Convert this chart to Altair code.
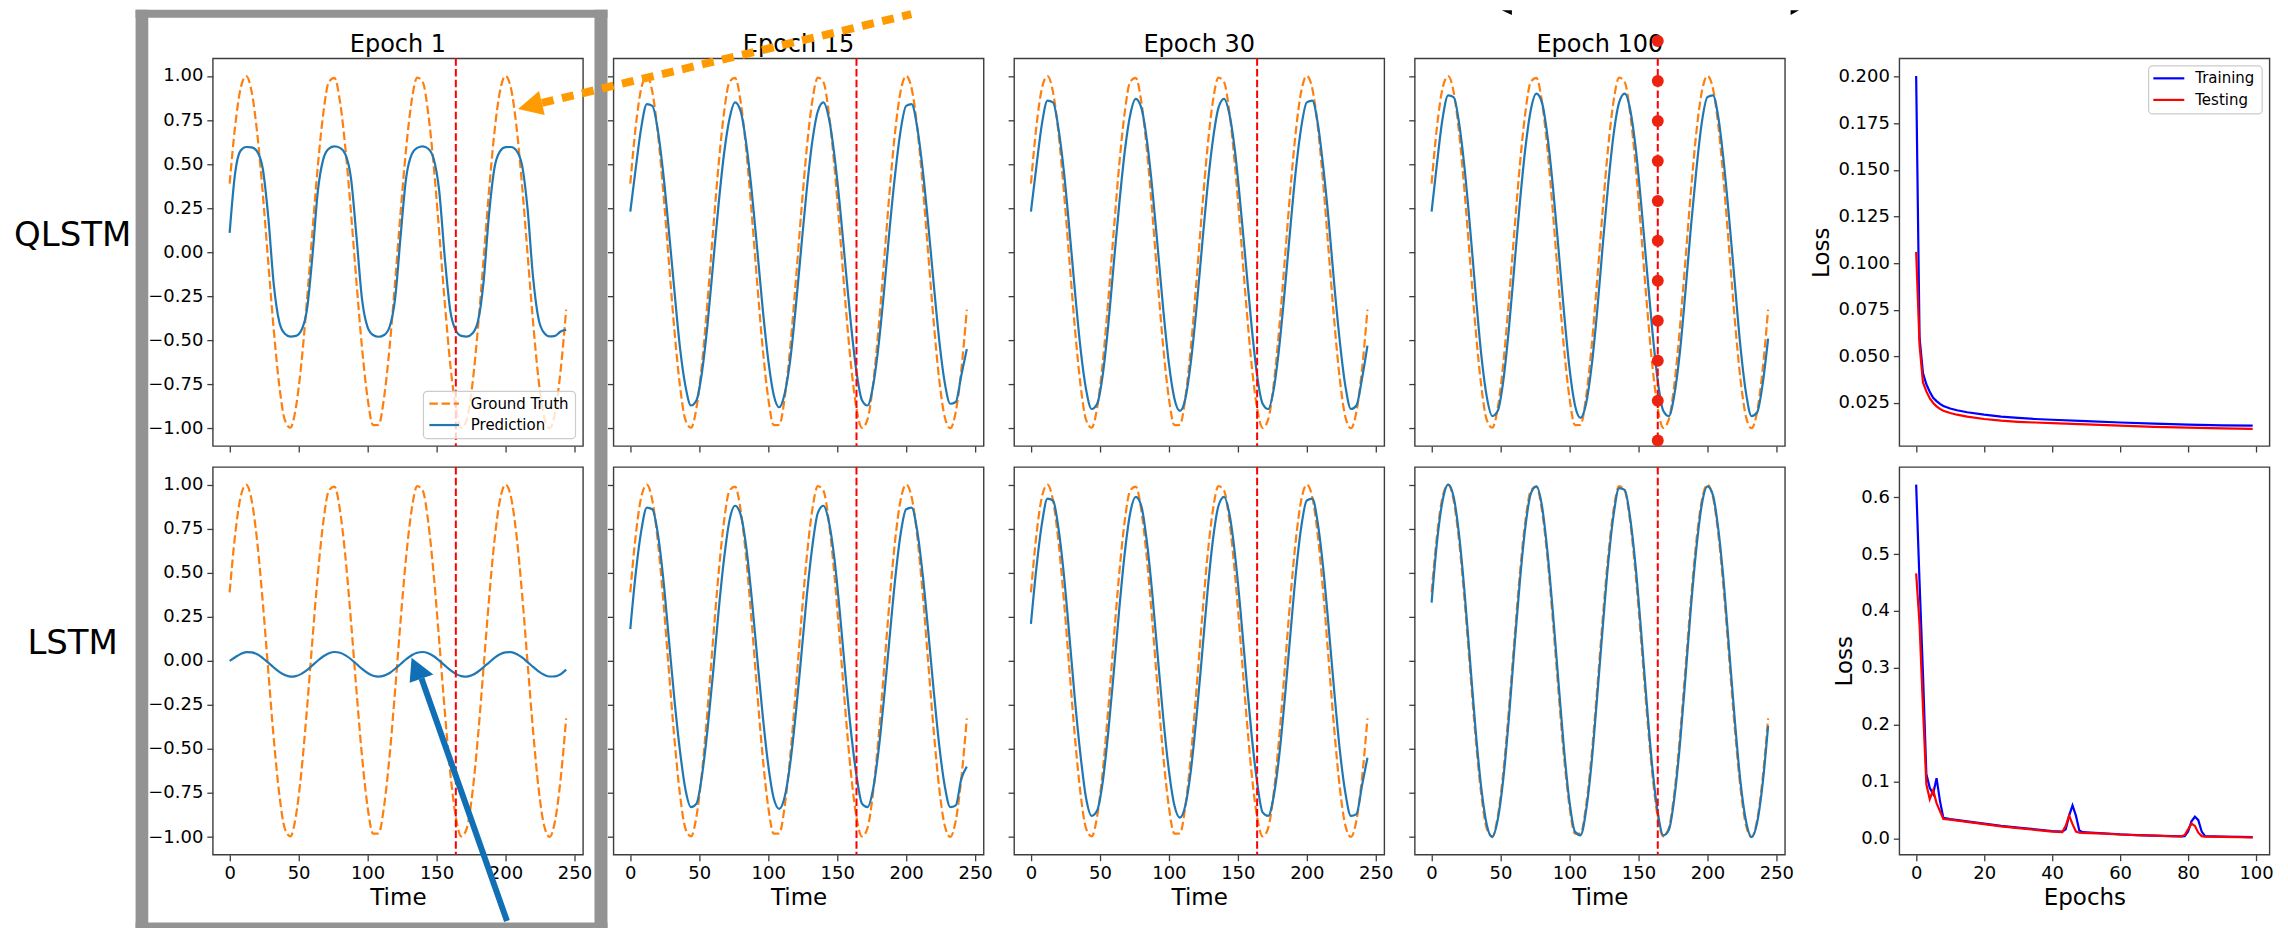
import altair as alt
import pandas as pd

FONT = "DejaVu Sans"

# ---------------- data ----------------
TIME = [0, 4, 8, 12, 16, 20, 24, 28, 32, 36, 40, 44, 48, 52, 56, 60, 64, 68, 72, 76,
        80, 84, 88, 92, 96, 100, 104, 108, 112, 116, 120, 124, 128, 132, 136, 140, 144,
        148, 152, 156, 160, 164, 168, 172, 176, 180, 184, 188, 192, 196, 200, 204, 208,
        212, 216, 220, 224, 228, 232, 236, 240, 244]

GROUND_TRUTH = [0.389, 0.717, 0.932, 1.000, 0.909, 0.675, 0.335, -0.058, -0.443, -0.757,
                -0.952, -0.996, -0.883, -0.631, -0.279, 0.117, 0.494, 0.794, 0.968, 0.989,
                0.855, 0.585, 0.223, -0.174, -0.544, -0.828, -0.981, -0.980, -0.823, -0.537,
                -0.165, 0.232, 0.592, 0.860, 0.991, 0.966, 0.787, 0.486, 0.108, -0.288,
                -0.638, -0.887, -0.997, -0.949, -0.751, -0.434, -0.050, 0.343, 0.682, 0.913,
                1.000, 0.929, 0.711, 0.382, -0.009, -0.397, -0.724, -0.935, -0.999, -0.906,
                -0.669, -0.326]

QLSTM_EPOCH_1 = [0.11, 0.45, 0.577, 0.597, 0.595, 0.571, 0.475, 0.200, -0.184, -0.396,
                 -0.463, -0.479, -0.475, -0.443, -0.329, -0.024, 0.350, 0.531, 0.588, 0.600,
                 0.592, 0.554, 0.419, 0.085, -0.268, -0.425, -0.470, -0.480, -0.470, -0.423,
                 -0.262, 0.095, 0.423, 0.555, 0.592, 0.600, 0.587, 0.529, 0.344, -0.033,
                 -0.333, -0.444, -0.475, -0.479, -0.462, -0.394, -0.177, 0.209, 0.478, 0.572,
                 0.596, 0.597, 0.576, 0.494, 0.247, -0.143, -0.380, -0.458, -0.478, -0.475,
                 -0.450, -0.440]

QLSTM_EPOCH_15 = [0.23, 0.48, 0.71, 0.84, 0.83, 0.69, 0.44, 0.12, -0.22, -0.54,
                  -0.76, -0.87, -0.84, -0.68, -0.41, -0.07, 0.27, 0.56, 0.76, 0.85,
                  0.80, 0.62, 0.35, 0.02, -0.32, -0.61, -0.81, -0.88, -0.80, -0.61,
                  -0.31, 0.03, 0.36, 0.63, 0.80, 0.85, 0.76, 0.55, 0.26, -0.08,
                  -0.41, -0.68, -0.84, -0.87, -0.76, -0.53, -0.22, 0.13, 0.44, 0.69,
                  0.83, 0.84, 0.71, 0.47, 0.16, -0.18, -0.50, -0.74, -0.86, -0.85,
                  -0.70, -0.55]

QLSTM_EPOCH_30 = [0.23, 0.49, 0.73, 0.86, 0.85, 0.70, 0.45, 0.12, -0.23, -0.55,
                  -0.78, -0.89, -0.86, -0.70, -0.42, -0.07, 0.27, 0.57, 0.78, 0.87,
                  0.82, 0.64, 0.36, 0.02, -0.33, -0.63, -0.83, -0.90, -0.83, -0.62,
                  -0.32, 0.03, 0.37, 0.64, 0.82, 0.87, 0.78, 0.57, 0.26, -0.08,
                  -0.42, -0.70, -0.86, -0.89, -0.78, -0.54, -0.22, 0.13, 0.46, 0.71,
                  0.85, 0.86, 0.73, 0.48, 0.17, -0.19, -0.51, -0.76, -0.89, -0.87,
                  -0.72, -0.53]

QLSTM_EPOCH_100 = [0.23, 0.51, 0.76, 0.89, 0.88, 0.73, 0.47, 0.13, -0.24, -0.58,
                   -0.82, -0.93, -0.90, -0.73, -0.44, -0.08, 0.28, 0.59, 0.81, 0.90,
                   0.85, 0.66, 0.37, 0.02, -0.34, -0.66, -0.87, -0.94, -0.86, -0.65,
                   -0.34, 0.03, 0.38, 0.67, 0.85, 0.90, 0.81, 0.59, 0.27, -0.09,
                   -0.44, -0.73, -0.90, -0.93, -0.81, -0.57, -0.23, 0.14, 0.47, 0.74,
                   0.88, 0.89, 0.76, 0.50, 0.17, -0.19, -0.54, -0.80, -0.93, -0.91,
                   -0.75, -0.49]

LSTM_EPOCH_1 = [0.000, 0.020, 0.039, 0.049, 0.048, 0.037, 0.016, -0.010, -0.038, -0.063,
                -0.081, -0.090, -0.087, -0.074, -0.053, -0.026, 0.002, 0.026, 0.043, 0.050,
                0.046, 0.031, 0.009, -0.018, -0.046, -0.069, -0.085, -0.090, -0.084, -0.069,
                -0.045, -0.018, 0.009, 0.032, 0.046, 0.050, 0.043, 0.026, 0.001, -0.026,
                -0.053, -0.074, -0.087, -0.090, -0.081, -0.062, -0.037, -0.010, 0.017, 0.037,
                0.048, 0.049, 0.039, 0.019, -0.007, -0.034, -0.060, -0.079, -0.089, -0.088,
                -0.076, -0.050]

LSTM_EPOCH_15 = [0.18, 0.50, 0.74, 0.87, 0.86, 0.72, 0.46, 0.12, -0.22, -0.51,
                 -0.73, -0.83, -0.81, -0.65, -0.39, -0.07, 0.28, 0.58, 0.80, 0.88,
                 0.83, 0.65, 0.36, 0.02, -0.31, -0.59, -0.78, -0.84, -0.77, -0.58,
                 -0.30, 0.03, 0.37, 0.65, 0.84, 0.88, 0.79, 0.58, 0.27, -0.08,
                 -0.40, -0.65, -0.81, -0.83, -0.73, -0.51, -0.21, 0.13, 0.46, 0.72,
                 0.86, 0.87, 0.74, 0.49, 0.17, -0.17, -0.48, -0.71, -0.83, -0.82,
                 -0.67, -0.60]

LSTM_EPOCH_30 = [0.21, 0.53, 0.78, 0.92, 0.91, 0.75, 0.48, 0.13, -0.23, -0.54,
                 -0.78, -0.88, -0.85, -0.69, -0.41, -0.07, 0.29, 0.61, 0.84, 0.93,
                 0.88, 0.68, 0.38, 0.02, -0.33, -0.62, -0.82, -0.89, -0.82, -0.62,
                 -0.32, 0.03, 0.39, 0.69, 0.88, 0.93, 0.83, 0.60, 0.28, -0.08,
                 -0.42, -0.69, -0.86, -0.88, -0.77, -0.54, -0.22, 0.14, 0.49, 0.76,
                 0.91, 0.92, 0.78, 0.52, 0.18, -0.18, -0.51, -0.75, -0.88, -0.87,
                 -0.71, -0.55]

LSTM_EPOCH_100 = [0.33, 0.68, 0.91, 1.00, 0.93, 0.71, 0.38, -0.01, -0.40, -0.72,
                  -0.93, -1.00, -0.90, -0.67, -0.33, 0.07, 0.45, 0.76, 0.95, 0.99,
                  0.88, 0.62, 0.27, -0.12, -0.50, -0.80, -0.97, -0.99, -0.85, -0.58,
                  -0.21, 0.18, 0.55, 0.83, 0.98, 0.97, 0.81, 0.53, 0.16, -0.24,
                  -0.60, -0.86, -0.99, -0.96, -0.78, -0.48, -0.10, 0.30, 0.64, 0.89,
                  0.99, 0.94, 0.74, 0.43, 0.04, -0.35, -0.69, -0.91, -1.00, -0.92,
                  -0.70, -0.37]

QLSTM_LOSS_EPOCH = [0, 1, 2, 3, 4, 5, 6, 7, 8, 10, 12, 15, 20, 25, 30, 35, 40, 50, 60, 70, 80, 90, 99]
QLSTM_TRAIN = [0.2003, 0.060, 0.041, 0.035, 0.031, 0.0278, 0.026, 0.0245, 0.0234, 0.022, 0.0211, 0.0200,
               0.0187, 0.0177, 0.0170, 0.0164, 0.0160, 0.0152, 0.0145, 0.0139, 0.0134, 0.0130, 0.0128]
QLSTM_TEST = [0.106, 0.056, 0.036, 0.0312, 0.0275, 0.025, 0.0232, 0.0218, 0.0208, 0.0196, 0.0187, 0.0177,
              0.0164, 0.0155, 0.0149, 0.0145, 0.0142, 0.0135, 0.0128, 0.0122, 0.0118, 0.0114, 0.0111]

LSTM_LOSS_EPOCH = [0, 1, 2, 3, 4, 5, 6, 7, 8, 10, 15, 20, 25, 30, 35, 40, 43, 44, 45, 46, 47, 48, 49,
                   55, 60, 65, 70, 75, 78, 79, 80, 81, 82, 83, 84, 85, 90, 95, 99]
LSTM_TRAIN = [0.622, 0.45, 0.29, 0.113, 0.089, 0.078, 0.106, 0.066, 0.036, 0.034, 0.030, 0.026, 0.022,
              0.019, 0.016, 0.013, 0.012, 0.016, 0.040, 0.058, 0.040, 0.014, 0.011, 0.009, 0.007, 0.0058,
              0.005, 0.004, 0.0035, 0.004, 0.012, 0.030, 0.038, 0.032, 0.012, 0.004, 0.003, 0.0025, 0.0022]
LSTM_TEST = [0.466, 0.376, 0.23, 0.095, 0.069, 0.085, 0.062, 0.048, 0.034, 0.033, 0.029, 0.025, 0.021,
             0.018, 0.015, 0.012, 0.011, 0.022, 0.040, 0.025, 0.012, 0.010, 0.0098, 0.0085, 0.0068, 0.0055,
             0.0048, 0.0038, 0.0034, 0.006, 0.016, 0.026, 0.022, 0.010, 0.004, 0.003, 0.0025, 0.002, 0.0018]

CUT_TIME = [164]
MARKER_TIME = [164, 164, 164, 164, 164, 164, 164, 164, 164, 164, 164]
MARKER_VALUE = [1.199, 0.972, 0.745, 0.518, 0.291, 0.065, -0.162, -0.389, -0.616, -0.843, -1.069]

TIME_TICKS = [0, 50, 100, 150, 200, 250]
VALUE_TICKS = [-1.0, -0.75, -0.5, -0.25, 0.0, 0.25, 0.5, 0.75, 1.0]
EPOCH_TICKS = [0, 20, 40, 60, 80, 100]
QLSTM_LOSS_TICKS = [0.025, 0.05, 0.075, 0.1, 0.125, 0.15, 0.175, 0.2]
LSTM_LOSS_TICKS = [0.0, 0.1, 0.2, 0.3, 0.4, 0.5, 0.6]
EPOCH_TITLES = ["Epoch 1", "Epoch 15", "Epoch 30", "Epoch 100"]
ROW_LABELS = ["QLSTM", "LSTM"]

# ---------------- layout (page pixels of the reference) ----------------
W, H = 370.5, 388
COL_LEFT = [212.3, 612.8, 1013.3, 1413.8, 1897.8]
ROW_TOP = [56.7, 465.7]
ONE = pd.DataFrame({"k": [0]})

GT_COLOR = "#ff7f0e"
PRED_COLOR = "#1f77b4"
GREY = "#939393"


def rx(c, X):
    return X - COL_LEFT[c]


def ry(r, Y):
    return Y - ROW_TOP[r]


def prect(cr, X1, X2, Y1, Y2, **mk):
    c, r = cr
    return alt.Chart(ONE).mark_rect(**mk).encode(
        x=alt.value(rx(c, X1)), x2=alt.value(rx(c, X2)),
        y=alt.value(ry(r, Y1)), y2=alt.value(ry(r, Y2)))


def ptext(cr, X, Y, text, size, align="center", baseline="alphabetic"):
    c, r = cr
    return alt.Chart(ONE).mark_text(text=text, font=FONT, fontSize=size, align=align,
                                    baseline=baseline, color="black").encode(
        x=alt.value(rx(c, X)), y=alt.value(ry(r, Y)))


def pseg(cr, X1, Y1, X2, Y2, color, width, dash=None):
    c, r = cr
    kw = dict(color=color, strokeWidth=width, strokeCap="butt")
    if dash:
        kw["strokeDash"] = dash
    return alt.Chart(ONE).mark_rule(**kw).encode(
        x=alt.value(rx(c, X1)), y=alt.value(ry(r, Y1)),
        x2=alt.value(rx(c, X2)), y2=alt.value(ry(r, Y2)))


def ppoly(cr, X, Y, path, color):
    c, r = cr
    return alt.Chart(ONE).mark_point(shape=path, size=4, filled=True, color=color,
                                     opacity=1, strokeWidth=0).encode(
        x=alt.value(rx(c, X)), y=alt.value(ry(r, Y)))


def sine_panel(row, col, pred, extras):
    bottom = row == 1
    xt = "Time" if bottom else None
    df = pd.DataFrame({"t": TIME, "gt": GROUND_TRUTH, "pred": pred})
    xs = alt.Scale(domain=[-12.2, 256.2], nice=False, zero=False)
    ys = alt.Scale(domain=[-1.1, 1.1], nice=False, zero=False)
    xa = alt.Axis(values=TIME_TICKS, labels=bottom)
    ya = alt.Axis(values=VALUE_TICKS, labels=(col == 0), format=".2f")
    base = alt.Chart(df)
    gt = base.mark_line(color=GT_COLOR, strokeWidth=2.2, strokeDash=[8.5, 3.7],
                        interpolate="monotone").encode(
        x=alt.X("t:Q", scale=xs, axis=xa, title=xt),
        y=alt.Y("gt:Q", scale=ys, axis=ya, title=None))
    pr = base.mark_line(color=PRED_COLOR, strokeWidth=2.2, interpolate="monotone").encode(
        x=alt.X("t:Q", title=xt), y=alt.Y("pred:Q", title=None))
    cut = alt.Chart(pd.DataFrame({"t": CUT_TIME})).mark_rule(
        color="#ff0000", strokeWidth=2, strokeDash=[7.5, 3.2]).encode(x=alt.X("t:Q", title=xt))
    layers = [gt, pr, cut]
    if row == 0:
        layers.append(ptext((col, 0), COL_LEFT[col] + W / 2, 50, EPOCH_TITLES[col], 24))
    return alt.layer(*layers, *extras).properties(width=W, height=H)


def loss_panel(row, epochs, train, test, ydomain, yticks, yfmt, extras):
    bottom = row == 1
    xt = "Epochs" if bottom else None
    df = pd.DataFrame({"e": epochs, "train": train, "test": test})
    xs = alt.Scale(domain=[-4.95, 103.95], nice=False, zero=False)
    ys = alt.Scale(domain=ydomain, nice=False, zero=False)
    xa = alt.Axis(values=EPOCH_TICKS, labels=bottom)
    ya = alt.Axis(values=yticks, format=yfmt)
    base = alt.Chart(df)
    tr = base.mark_line(color="#0000ff", strokeWidth=2.2).encode(
        x=alt.X("e:Q", scale=xs, axis=xa, title=xt),
        y=alt.Y("train:Q", scale=ys, axis=ya, title="Loss"))
    te = base.mark_line(color="#ff0000", strokeWidth=2.2).encode(
        x=alt.X("e:Q", title=xt), y=alt.Y("test:Q", title="Loss"))
    return alt.layer(tr, te, *extras).properties(width=W, height=H)


# ---------------- annotations ----------------
P1T = (0, 0)
p1_top_extras = [
    prect(P1T, 8, 2280, 8, 927, color="white", opacity=0),  # page anchor
    prect(P1T, 135, 147.7, 8, 927, color=GREY),
    prect(P1T, 594.3, 607.3, 8, 927, color=GREY),
    prect(P1T, 135, 607.3, 8, 16, color=GREY),
    prect(P1T, 135, 607.3, 921.7, 927, color=GREY),
    ptext(P1T, 72, 245, ROW_LABELS[0], 34),
    prect(P1T, 423.1, 575.3, 390, 437.3, fill="white", fillOpacity=0.8, stroke="#cccccc",
          strokeWidth=1.2, cornerRadius=4),
    pseg(P1T, 429, 402.3, 458.7, 402.3, GT_COLOR, 2.2, dash=[8.5, 3.7]),
    pseg(P1T, 429, 423.7, 458.7, 423.7, PRED_COLOR, 2.2),
    ptext(P1T, 470.5, 402.3, "Ground Truth", 15, align="left", baseline="middle"),
    ptext(P1T, 470.5, 423.7, "Prediction", 15, align="left", baseline="middle"),
]

P2T = (1, 0)
p2_top_extras = [
    pseg(P2T, 541.2, 101.3, 910.9, 12.5, "#ff9a00", 8, dash=[12, 8.6]),
    ppoly(P2T, 517.3, 107.3, "M0,0L21,-18L26.7,6Z", "#ff9a00"),
]

P4T = (3, 0)
dots = alt.Chart(pd.DataFrame({"t": MARKER_TIME, "v": MARKER_VALUE})).mark_circle(
    color="#eb230f", size=143, opacity=1).encode(
    x=alt.X("t:Q", title=None), y=alt.Y("v:Q", title=None))
p4_top_extras = [
    dots,
    ppoly(P4T, 1511, 8.5, "M-10.1,0L0,4.8L0,0Z", "black"),
    ppoly(P4T, 1790, 8.5, "M0,0L0,4.8L8.4,0Z", "black"),
]

P5T = (4, 0)
p5_top_extras = [
    prect(P5T, 2147.3, 2261, 64.3, 112.3, fill="white", fillOpacity=0.8, stroke="#cccccc",
          strokeWidth=1.2, cornerRadius=4),
    pseg(P5T, 2152, 76.7, 2183, 76.7, "#0000ff", 2.2),
    pseg(P5T, 2152, 98.3, 2183, 98.3, "#ff0000", 2.2),
    ptext(P5T, 2194, 76.7, "Training", 15, align="left", baseline="middle"),
    ptext(P5T, 2194, 98.3, "Testing", 15, align="left", baseline="middle"),
]

P1B = (0, 1)
p1_bot_extras = [
    ptext(P1B, 72, 653.3, ROW_LABELS[1], 34),
    pseg(P1B, 421.2, 677.5, 506.7, 920, "#1170b5", 6),
    ppoly(P1B, 411.2, 656.7, "M0,0L-1.9,25L21.8,16.6Z", "#1170b5"),
]


def spacer():
    return alt.Chart(ONE).mark_point(opacity=0).encode(
        x=alt.value(0), y=alt.value(0)).properties(
        width=53.5, height=H, view=alt.ViewConfig(strokeOpacity=0))


panels = [
    sine_panel(0, 0, QLSTM_EPOCH_1, p1_top_extras),
    sine_panel(0, 1, QLSTM_EPOCH_15, p2_top_extras),
    sine_panel(0, 2, QLSTM_EPOCH_30, []),
    sine_panel(0, 3, QLSTM_EPOCH_100, p4_top_extras),
    spacer(),
    loss_panel(0, QLSTM_LOSS_EPOCH, QLSTM_TRAIN, QLSTM_TEST, [0.0019, 0.2098],
               QLSTM_LOSS_TICKS, ".3f", p5_top_extras),
    sine_panel(1, 0, LSTM_EPOCH_1, p1_bot_extras),
    sine_panel(1, 1, LSTM_EPOCH_15, []),
    sine_panel(1, 2, LSTM_EPOCH_30, []),
    sine_panel(1, 3, LSTM_EPOCH_100, []),
    spacer(),
    loss_panel(1, LSTM_LOSS_EPOCH, LSTM_TRAIN, LSTM_TEST, [-0.0286, 0.653],
               LSTM_LOSS_TICKS, ".1f", []),
]

chart = alt.concat(*panels, columns=6, spacing={"row": 21, "column": 30},
                   bounds="flush", padding=0).configure(font=FONT).configure_view(
    stroke="#3d3d3d", strokeWidth=1.4).configure_axis(
    domain=False, grid=False, ticks=True, tickColor="#3d3d3d", tickSize=6, tickWidth=1.3,
    labelFont=FONT, labelFontSize=18, labelColor="black", labelPadding=4,
    labelFlush=False, labelOverlap=False,
    titleFont=FONT, titleFontSize=23, titleFontWeight="normal", titleColor="black",
    titlePadding=4)

chart.save("out.html", embed_options={"renderer": "svg", "actions": False})
